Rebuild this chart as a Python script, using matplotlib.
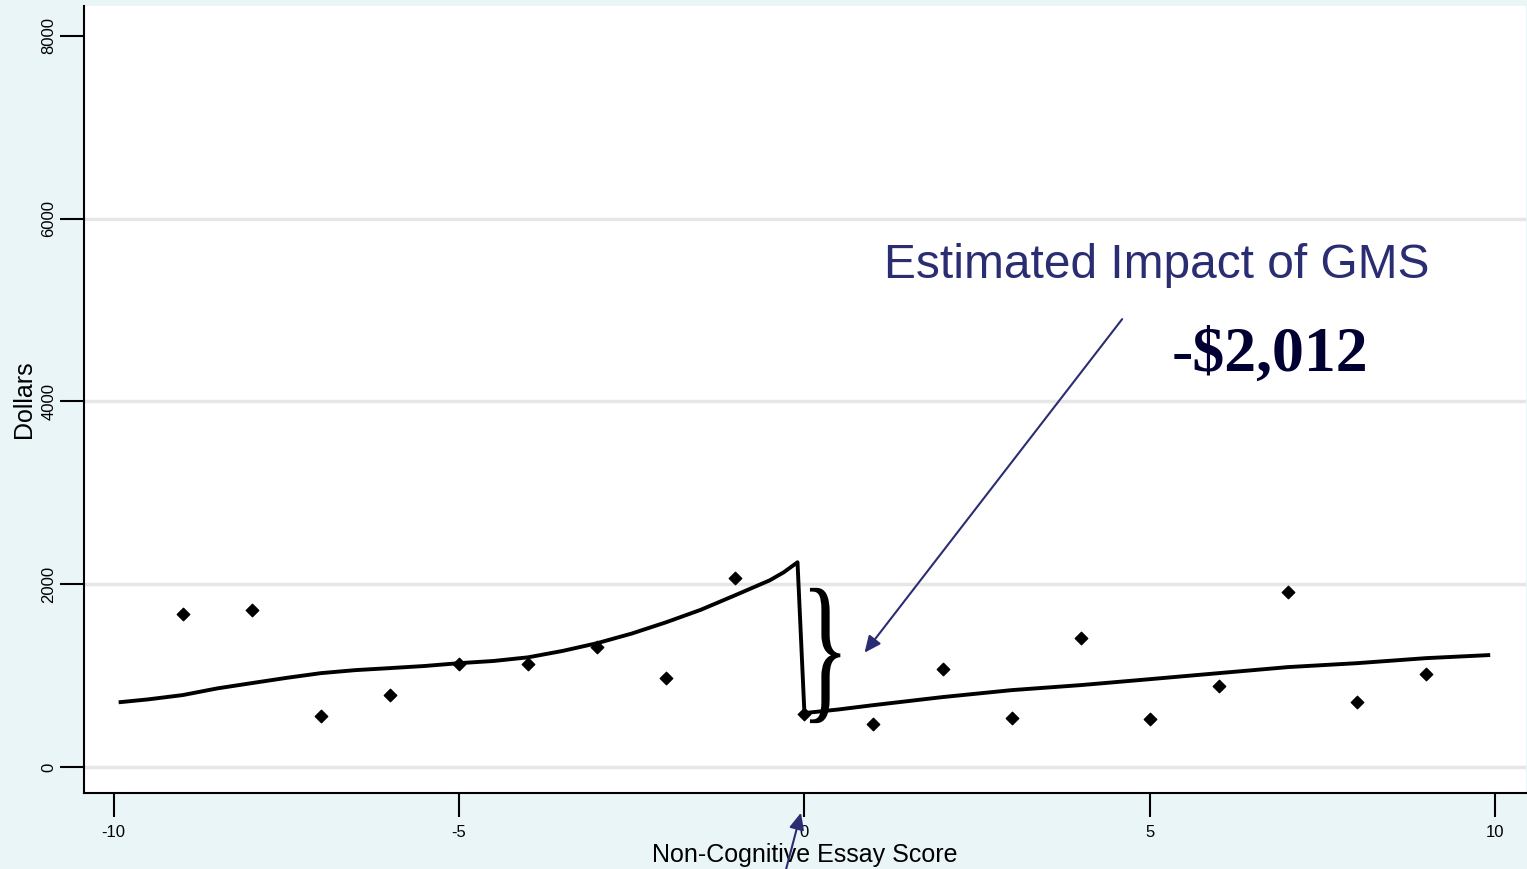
import matplotlib
matplotlib.use("Agg")
import matplotlib.pyplot as plt
from matplotlib.font_manager import FontProperties
from matplotlib.patches import PathPatch
from matplotlib.textpath import TextPath
from matplotlib.transforms import Affine2D

plt.rcParams["font.family"] = ["Liberation Sans", "DejaVu Sans"]
plt.rcParams["axes.unicode_minus"] = False

# binned means of earnings by essay score
score_bins = [-9, -8, -7, -6, -5, -4, -3, -2, -1, 0, 1, 2, 3, 4, 5, 6, 7, 8, 9]
bin_means = [1672, 1715, 557, 787, 1125, 1125, 1311, 972, 2065, 579,
             470, 1071, 535, 1409, 524, 885, 1912, 710, 1016]

# local fit, left of the cutoff
fit_left_x = [-9.9, -9.5, -9.0, -8.5, -8.0, -7.5, -7.0, -6.5, -6.0, -5.5, -5.0,
              -4.5, -4.0, -3.5, -3.0, -2.5, -2.0, -1.5, -1.0, -0.5, -0.3, -0.1]
fit_left_y = [710, 740, 787, 860, 918, 975, 1027, 1060, 1082, 1105, 1136,
              1160, 1200, 1270, 1355, 1460, 1584, 1720, 1880, 2043, 2130, 2240]
# local fit, right of the cutoff
fit_right_x = [0.0, 0.5, 1.0, 2.0, 3.0, 4.0, 5.0, 6.0, 7.0, 8.0, 9.0, 9.9]
fit_right_y = [590, 630, 677, 765, 841, 896, 961, 1027, 1093, 1136, 1191, 1224]

x_ticks = [-10, -5, 0, 5, 10]
y_ticks = [0, 2000, 4000, 6000, 8000]
grid_levels = [0, 2000, 4000, 6000]

NAVY = "#2b2d72"

fig = plt.figure(figsize=(15.27, 8.69), dpi=100, facecolor="#eaf5f8")
ax = fig.add_axes([0.055, 0.0875, 0.9445, 0.9055])
ax.set_facecolor("white")

for lvl in grid_levels:
    ax.axhline(lvl, color="#e6e6e6", lw=2.5, zorder=0)

ax.scatter(score_bins, bin_means, marker="D", s=40, color="black", zorder=3)
ax.plot(fit_left_x + fit_right_x, fit_left_y + fit_right_y,
        color="black", lw=2.8, zorder=2)

ax.set_xlim(-10.43, 10.45)
ax.set_ylim(-284, 8325)
ax.set_xticks(x_ticks)
ax.set_yticks(y_ticks)
ax.tick_params(axis="both", direction="out", length=17, width=1.5,
               labelsize=12, color="black")
ax.tick_params(axis="x", pad=6)
ax.tick_params(axis="y", pad=3)
for lab in ax.get_yticklabels():
    lab.set_rotation(90)
    lab.set_va("center")
for s in ["top", "right"]:
    ax.spines[s].set_visible(False)
for s in ["left", "bottom"]:
    ax.spines[s].set_linewidth(1.5)

ax.set_xlabel("Non-Cognitive Essay Score", fontsize=18, labelpad=2)
ax.set_ylabel("Dollars", fontsize=18, labelpad=4)

# stretched brace marking the jump
tp = TextPath((0, 0), "}", size=1, prop=FontProperties(family="Liberation Serif"))
ext = tp.get_extents()
bx0, bx1, by0, by1 = 0.08, 0.52, 480, 1960
tr = (Affine2D().translate(-ext.x0, -ext.y0)
      .scale((bx1 - bx0) / ext.width, (by1 - by0) / ext.height)
      .translate(bx0, by0))
ax.add_patch(PathPatch(tr.transform_path(tp), color="black", lw=0, zorder=4))

ax.text(0.555, 0.67, "Estimated Impact of GMS", transform=ax.transAxes,
        fontsize=34.5, color=NAVY, ha="left", va="center")
ax.text(0.8225, 0.555, "-$2,012", transform=ax.transAxes,
        fontsize=46, color="#000033", fontweight="bold", ha="center", va="center",
        family=["Liberation Serif", "DejaVu Serif"])

ax.annotate("", xy=(0.87, 1250), xytext=(4.6, 4900),
            arrowprops=dict(arrowstyle="-|>,head_length=1.0,head_width=0.45",
                            color=NAVY, lw=1.5, shrinkA=0, shrinkB=0))
ax.annotate("", xy=(-0.05, -500), xytext=(-0.28, -1160),
            annotation_clip=False,
            arrowprops=dict(arrowstyle="-|>,head_length=1.0,head_width=0.45",
                            color=NAVY, lw=1.5, shrinkA=0, shrinkB=0))

fig.savefig("out.png", dpi=100, facecolor=fig.get_facecolor())
